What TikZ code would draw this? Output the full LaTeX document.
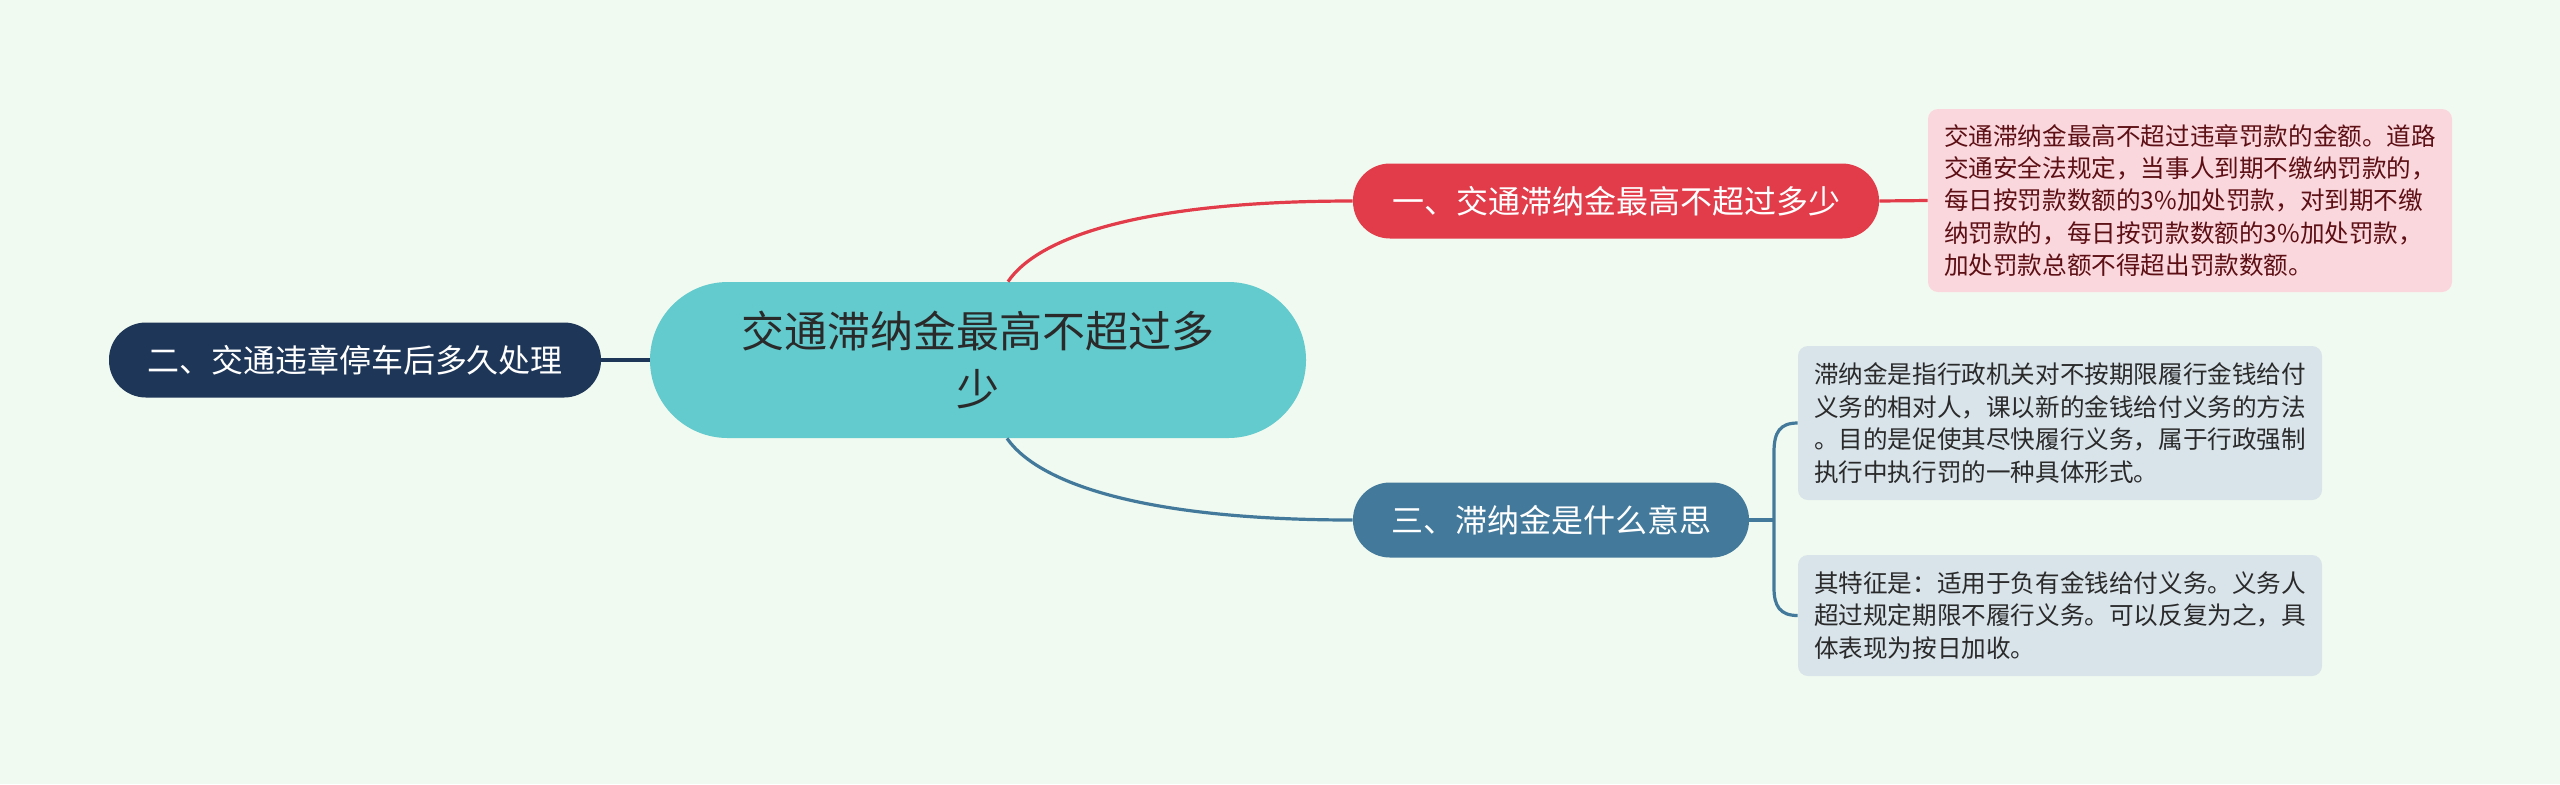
\documentclass[tikz,border=0pt]{standalone}
\usepackage{fontspec}
\setmainfont{Noto Sans CJK SC}
\usetikzlibrary{calc}
\definecolor{bgc}{HTML}{F1FAF0}
\definecolor{cenc}{HTML}{63CACD}
\definecolor{redc}{HTML}{E23B49}
\definecolor{redleaf}{HTML}{FAD7DC}
\definecolor{redtxt}{HTML}{5C0F14}
\definecolor{navyc}{HTML}{1E3658}
\definecolor{steelc}{HTML}{437A9C}
\definecolor{blueleaf}{HTML}{D8E3EA}
\definecolor{darktxt}{HTML}{2A2A2A}
\tikzset{
  mainnode/.style={rounded corners=18.5pt, minimum height=37.5pt, inner sep=0pt,
    text=white, font=\fontsize{16pt}{20pt}\selectfont},
  leafnode/.style={rounded corners=5pt, inner sep=0pt, align=left,
    minimum width=262pt, font=\fontsize{12.3pt}{16.2pt}\selectfont},
  conn/.style={line width=1.6pt}
}
\begin{document}
\begin{tikzpicture}[x=0.5pt,y=-0.5pt]
\useasboundingbox[fill=bgc] (0,0) rectangle (2560,784);

% central
\node[fill=cenc, rounded corners=38.9pt, minimum width=328pt, minimum height=78pt,
  inner sep=0pt, align=center, text=darktxt,
  font=\fontsize{21.5pt}{29pt}\selectfont] (c) at (978,360) {交通滞纳金最高不超过多\\少};

% main branches
\node[mainnode, fill=redc, minimum width=263pt] (n1) at (1616,201) {一、交通滞纳金最高不超过多少};
\node[mainnode, fill=navyc, minimum width=246pt] (n2) at (355,360) {二、交通违章停车后多久处理};
\node[mainnode, fill=steelc, minimum width=198pt] (n3) at (1551,520) {三、滞纳金是什么意思};

% leaves
\node[leafnode, fill=redleaf, text=redtxt, minimum height=91.5pt] (l1) at (2190,200.5)
 {交通滞纳金最高不超过违章罚款的金额。道路\\交通安全法规定，当事人到期不缴纳罚款的，\\每日按罚款数额的3\%加处罚款，对到期不缴\\纳罚款的，每日按罚款数额的3\%加处罚款，\\加处罚款总额不得超出罚款数额。};
\node[leafnode, fill=blueleaf, text=darktxt, minimum height=77pt] (l3a) at (2060,423)
 {滞纳金是指行政机关对不按期限履行金钱给付\\义务的相对人，课以新的金钱给付义务的方法\\。目的是促使其尽快履行义务，属于行政强制\\执行中执行罚的一种具体形式。};
\node[leafnode, fill=blueleaf, text=darktxt, minimum height=60.5pt] (l3b) at (2060,615.5)
 {其特征是：适用于负有金钱给付义务。义务人\\超过规定期限不履行义务。可以反复为之，具\\体表现为按日加收。};

% connectors
\draw[conn, redc] ([xshift=15pt]c.north) .. controls ++(32,-47) and ++(-203,0) .. (n1.west);
\draw[conn, steelc] ([xshift=14.5pt]c.south) .. controls ++(33,47) and ++(-203,0) .. (n3.west);
\draw[conn, navyc] (n2.east) -- (c.west);
\draw[conn, redc] (n1.east) -- (l1.west);

\coordinate (bx) at (1774,520);
\draw[conn, steelc] (n3.east) -- (bx);
\draw[conn, steelc] (l3a.west) .. controls (1780,423) and (1774,432) .. (1774,452)
  -- (1774,588) .. controls (1774,606) and (1780,615.5) .. (l3b.west);
\end{tikzpicture}
\end{document}
